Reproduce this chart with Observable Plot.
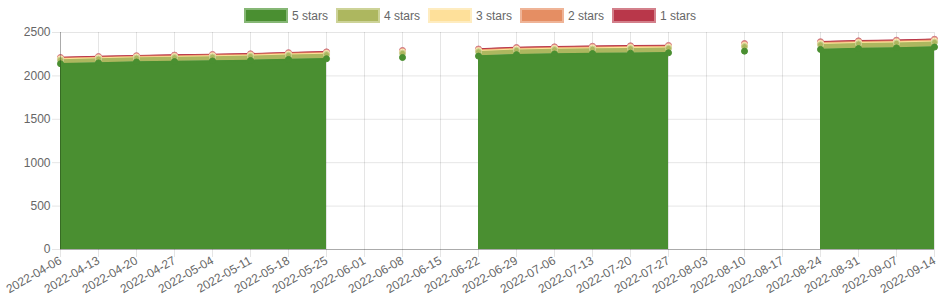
<!DOCTYPE html>
<html>
<head>
<meta charset="utf-8">
<script src="https://cdn.jsdelivr.net/npm/d3@7"></script>
<script src="https://cdn.jsdelivr.net/npm/@observablehq/plot@0.6"></script>
<style>
  body { margin: 0; background: #fff; font-family: "Liberation Sans", Arial, sans-serif; }
  #legend { height: 24px; display: flex; justify-content: center; align-items: flex-start; }
  .item { display: flex; align-items: center; margin-top: 8px; margin-right: 8px; height: 15px; }
  .item:last-child { margin-right: 0; }
  .box { width: 40px; height: 11px; margin-right: 4px; }
  .label { font-size: 12px; color: #666; white-space: nowrap; }
  #chart svg { overflow: visible; display: block; }
</style>
</head>
<body>
<div id="legend"></div>
<div id="chart"></div>
<script>
const dates = ["2022-04-06","2022-04-13","2022-04-20","2022-04-27","2022-05-04","2022-05-11","2022-05-18","2022-05-25",
  "2022-06-01","2022-06-08","2022-06-15","2022-06-22","2022-06-29","2022-07-06","2022-07-13","2022-07-20","2022-07-27",
  "2022-08-03","2022-08-10","2022-08-17","2022-08-24","2022-08-31","2022-09-07","2022-09-14"];

const seriesNames = ["5 stars", "4 stars", "3 stars", "2 stars", "1 stars"];
const seriesColors = ["#4a8f31", "#adb75f", "#fee09a", "#e58e63", "#b9374a"];
const seriesBorders = ["#86b775", "#cdd398", "#feecc0", "#efb497", "#d3808b"];

const fiveStars  = [2140,2150,2160,2165,2172,2178,2190,2198, null,2212, null,2228,2245,2252,2258,2262,2266, null,2285, null,2305,2315,2322,2332];
const fourStars  = [44,45,45,46,46,47,47,48, null,49, null,50,50,51,51,52,52, null,53, null,54,54,55,55];
const threeStars = [10,10,10,11,11,11,11,11, null,12, null,12,12,12,12,12,12, null,13, null,13,13,13,13];
const twoStars   = [8,8,8,8,8,9,9,9, null,9, null,9,9,9,10,10,10, null,10, null,10,10,10,11];
const oneStars   = [10,10,10,10,10,10,11,11, null,11, null,11,11,11,11,11,11, null,12, null,12,12,12,12];

const yTicks = [0, 500, 1000, 1500, 2000, 2500];

// Build stacked table
const seriesValues = [fiveStars, fourStars, threeStars, twoStars, oneStars];
const parse = d3.utcParse("%Y-%m-%d");
const dateObjs = dates.map(parse);
const table = [];
dates.forEach((d, i) => {
  let cum = 0;
  seriesValues.forEach((vals, s) => {
    const v = vals[i];
    const ok = v != null;
    const y1 = ok ? cum : NaN;
    const y2 = ok ? cum + v : NaN;
    if (ok) cum += v;
    table.push({date: dateObjs[i], series: seriesNames[s], s, y1, y2});
  });
});

// Legend
const legend = document.getElementById("legend");
seriesNames.forEach((name, s) => {
  const it = document.createElement("div");
  it.className = "item";
  const b = document.createElement("div");
  b.className = "box";
  b.style.background = seriesColors[s];
  b.style.border = "2px solid " + seriesBorders[s];
  const l = document.createElement("span");
  l.className = "label";
  l.textContent = name;
  it.appendChild(b); it.appendChild(l);
  legend.appendChild(it);
});

const marks = [
  Plot.gridY({ticks: yTicks, stroke: "#000", strokeOpacity: 0.1}),
  Plot.gridX({ticks: dateObjs, stroke: "#000", strokeOpacity: 0.1}),
];
// areas
for (let s = seriesNames.length - 1; s >= 0; s--) {
  const data = table.filter(r => r.s === s);
  marks.push(Plot.areaY(data, {x: "date", y1: "y1", y2: "y2", fill: seriesColors[s], curve: "linear"}));
}
// lines & points (last series drawn first, first series on top)
for (let s = seriesNames.length - 1; s >= 0; s--) {
  const data = table.filter(r => r.s === s);
  marks.push(Plot.lineY(data, {x: "date", y: "y2", stroke: seriesColors[s], strokeWidth: 1.5, curve: "linear"}));
  marks.push(Plot.dot(data.filter(r => !isNaN(r.y2)), {x: "date", y: "y2", r: 3, fill: seriesColors[s], stroke: s === 0 ? seriesColors[s] : seriesBorders[s], strokeWidth: 1}));
}
marks.push(
  Plot.ruleY([0], {stroke: "#000", strokeOpacity: 0.25}),
  Plot.ruleX([dateObjs[0]], {stroke: "#000", strokeOpacity: 0.25}),
  Plot.axisY({ticks: yTicks, tickSize: 8, tickPadding: 2, tickFormat: d3.format("d"), fontSize: 12, color: "#666", stroke: "#000", strokeOpacity: 0.1, label: null}),
  Plot.axisX({ticks: dateObjs, tickSize: 8, tickPadding: 2, tickRotate: -30, tickFormat: d3.utcFormat("%Y-%m-%d"), fontSize: 12, color: "#666", stroke: "#000", strokeOpacity: 0.1, label: null})
);

const chart = Plot.plot({
  width: 940,
  height: 276,
  marginLeft: 60,
  marginRight: 6,
  marginTop: 8,
  marginBottom: 51,
  style: {fontFamily: "Liberation Sans, Arial, sans-serif", fontSize: "12px", color: "#666", background: "#fff"},
  x: {type: "utc", domain: [dateObjs[0], dateObjs[dateObjs.length - 1]]},
  y: {domain: [0, 2500]},
  marks
});
document.getElementById("chart").appendChild(chart);
</script>
</body>
</html>
